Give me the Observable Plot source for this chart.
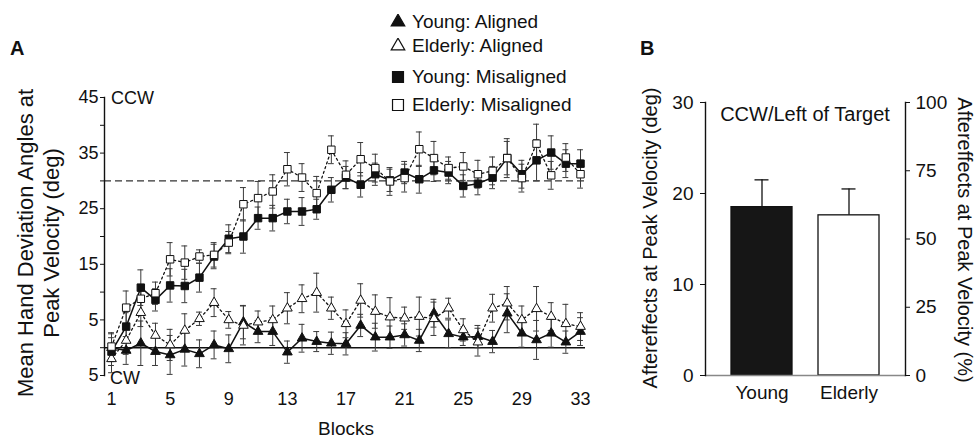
<!DOCTYPE html>
<html><head><meta charset="utf-8">
<script src="https://cdn.jsdelivr.net/npm/d3@7"></script>
<script src="https://cdn.jsdelivr.net/npm/@observablehq/plot@0.6"></script>
<style>
body{margin:0;background:#fff;font-family:"Liberation Sans",Arial,sans-serif;color:#111;}
#wrap{position:relative;width:978px;height:438px;overflow:hidden;background:#fff;}
.abs{position:absolute;white-space:nowrap;line-height:1;}
.rotL{transform:translate(-50%,-50%) rotate(-90deg);}
.rotR{transform:translate(-50%,-50%) rotate(90deg);}
.panel{font-weight:bold;font-size:20px;}
.leg{display:flex;align-items:center;font-size:19px;}
.leg svg{margin-right:6px;}
#plotA,#plotB{position:absolute;top:0;}
#plotA{left:0;} #plotB{left:620px;}
</style></head>
<body><div id="wrap"><div id="plotA"></div><div id="plotB"></div></div>
<script>
// ---------- Panel A data ----------
const blocks = d3.range(1, 34);
const xTicksA = [1, 5, 9, 13, 17, 21, 25, 29, 33];
const yTicksA = [-5, 0, 5, 10, 15, 20, 25, 30, 35, 40, 45];
const yLabeledA = [-5, 5, 15, 25, 35, 45];
const targetAngle = 30;

const youngAligned = [0.0,-0.5,0.8,-0.7,-1.3,-0.3,-1.1,0.5, -0.2,4.6,2.9,2.9,-0.8,1.7,1.1,0.8, 0.7,4.0,1.9,1.9,2.3,1.3,6.2,2.5, 1.9,2.0,1.1,6.2,2.6,1.4,2.6,1.0,2.9];
const youngAlignedErr = [2.5,2.5,4.0,2.5,3.5,3.0,2.5,2.5, 2.5,3.0,2.0,2.5,2.0,2.5,1.8,2.0, 2.0,2.0,2.5,2.0,2.0,2.0,2.5,2.5, 1.5,2.0,2.0,3.5,2.5,3.5,2.5,2.0,2.5];
const elderlyAligned = [-2.0,1.3,6.3,2.2,0.5,3.1,5.2,8.1, 5.0,4.0,4.6,5.0,7.1,8.8,9.9,7.1, 4.3,8.5,6.5,5.5,5.3,5.6,5.2,7.1, 3.2,1.0,7.1,8.0,5.0,7.0,5.6,4.3,3.8];
const elderlyAlignedErr = [2.5,2.5,2.5,2.2,2.8,3.0,1.2,2.5, 1.5,3.5,2.0,2.5,2.8,2.5,3.5,2.0, 2.5,3.0,3.0,3.5,2.0,3.5,3.0,1.8, 2.0,2.5,2.5,3.0,2.5,4.0,2.5,3.5,2.5];
const youngMisaligned = [-0.7,3.8,10.8,8.6,11.2,11.1,12.6,16.4, 19.6,20.0,23.3,23.3,24.5,24.5,24.9,28.4, 30.6,29.3,31.2,30.1,31.5,30.3,31.9,31.5, 29.1,29.5,30.6,34.1,31.2,33.7,35.1,33.1,33.1];
const youngMisalignedErr = [2.5,2.5,3.2,2.0,3.0,3.0,2.6,2.2, 2.5,3.0,2.0,2.3,2.2,2.5,1.8,2.2, 2.0,2.2,2.0,2.0,2.0,2.5,2.0,2.0, 2.0,2.0,2.0,3.0,2.5,3.7,3.0,2.5,2.5];
const elderlyMisaligned = [0.2,7.2,8.8,9.8,15.9,15.3,16.4,16.7, 18.9,25.8,26.9,28.1,32.1,30.6,27.8,35.6, 31.1,33.9,32.3,29.9,30.5,35.7,34.1,32.3, 32.6,31.2,31.8,34.1,30.5,36.7,31.0,34.2,31.2];
const elderlyMisalignedErr = [2.5,3.0,2.5,2.0,3.0,3.0,1.2,2.2, 2.0,3.0,3.0,3.0,3.0,2.5,3.0,2.5, 2.5,3.0,2.5,2.5,2.5,3.1,3.0,2.0, 2.5,2.5,2.5,3.5,2.5,3.5,2.5,2.5,2.5];

const seriesNames = ["Young: Aligned", "Elderly: Aligned", "Young: Misaligned", "Elderly: Misaligned"];

// ---------- Panel B data ----------
const groupsB = ["Young", "Elderly"];
const aftereffects = [18.5, 17.6];
const aftereffectsErr = [3.0, 2.9];
const yTicksB = [0, 10, 20, 30];
const pctTicksB = [0, 25, 50, 75, 100];
const maxDeg = 30; // 100 % corresponds to 30 deg

// ---------- build ----------
const ink = "#111";
const seriesStyle = [
  {symbol: "triangle", fill: ink, dash: null, r: 3.6},
  {symbol: "triangle", fill: "#fff", dash: "2,3", r: 3.6},
  {symbol: "square", fill: ink, dash: null, r: 4.2},
  {symbol: "square", fill: "#fff", dash: "2,3", r: 4.2}
];
const seriesVals = [youngAligned, elderlyAligned, youngMisaligned, elderlyMisaligned];
const seriesErr = [youngAlignedErr, elderlyAlignedErr, youngMisalignedErr, elderlyMisalignedErr];

const series = seriesNames.map((name, k) => ({
  name, style: seriesStyle[k],
  rows: blocks.map((b, i) => ({block: b, v: seriesVals[k][i], e: seriesErr[k][i]}))
}));

const fontFamily = "'Liberation Sans', Arial, sans-serif";
const marksA = [
  Plot.ruleY([targetAngle], {stroke: "#333", strokeWidth: 1.1, strokeDasharray: "7,4"}),
  Plot.ruleY([0], {stroke: ink, strokeWidth: 1.4}),
  Plot.frame({anchor: "left", stroke: ink, strokeWidth: 1.4}),
  Plot.axisY({ticks: yTicksA, tickFormat: d => yLabeledA.includes(d) ? String(Math.abs(d)) : "", tickSize: 4, tickPadding: 2, label: null, fontSize: 18}),
  Plot.axisX({ticks: xTicksA, tickSize: 0, tickPadding: 17, label: null, fontSize: 18})
];
for (const s of series) {
  marksA.push(
    Plot.ruleX(s.rows, {x: "block", y1: d => d.v - d.e, y2: d => d.v + d.e, stroke: "#3a3a3a", strokeWidth: 1}),
    Plot.ruleY(s.rows, {y: d => d.v + d.e, x1: d => d.block - 0.2, x2: d => d.block + 0.2, stroke: "#3a3a3a", strokeWidth: 1}),
    Plot.ruleY(s.rows, {y: d => d.v - d.e, x1: d => d.block - 0.2, x2: d => d.block + 0.2, stroke: "#3a3a3a", strokeWidth: 1})
  );
}
for (const s of series) {
  marksA.push(Plot.line(s.rows, {x: "block", y: "v", stroke: ink, strokeWidth: s.style.dash ? 1.3 : 1.5, strokeDasharray: s.style.dash}));
}
for (const s of series) {
  marksA.push(Plot.dot(s.rows, {x: "block", y: "v", symbol: s.style.symbol, r: s.style.r, fill: s.style.fill, stroke: ink, strokeWidth: 1}));
}

const plotA = Plot.plot({
  width: 620, height: 438,
  marginLeft: 104, marginRight: 35, marginTop: 97, marginBottom: 63,
  x: {domain: [0.522, 33.34]},
  y: {domain: [-5, 45]},
  style: {fontFamily, fontSize: "18px", color: ink, background: "transparent", overflow: "visible"},
  marks: marksA
});
document.getElementById("plotA").appendChild(plotA);

const barsB = groupsB.map((g, i) => ({group: g, value: aftereffects[i], err: aftereffectsErr[i]}));
const plotB = Plot.plot({
  width: 358, height: 438,
  marginLeft: 85, marginRight: 73, marginTop: 102, marginBottom: 63,
  x: {domain: groupsB, paddingInner: 0.3, paddingOuter: 0.29},
  y: {domain: [0, maxDeg]},
  color: {domain: groupsB, range: ["#161616", "#ffffff"]},
  style: {fontFamily, fontSize: "18px", color: ink, background: "transparent", overflow: "visible"},
  marks: [
    Plot.ruleX(barsB, {x: "group", y1: "value", y2: d => d.value + d.err, stroke: ink, strokeWidth: 1.3}),
    Plot.tickY(barsB, {x: "group", y: d => d.value + d.err, stroke: ink, strokeWidth: 1.3, insetLeft: 23.5, insetRight: 23.5}),
    Plot.barY(barsB, {x: "group", y: "value", fill: "group", stroke: ink, strokeWidth: 1.3}),
    Plot.ruleY([0], {stroke: "#888", strokeWidth: 1.3}),
    Plot.frame({anchor: "left", stroke: ink, strokeWidth: 1.4}),
    Plot.frame({anchor: "right", stroke: ink, strokeWidth: 1.4}),
    Plot.axisY({anchor: "left", ticks: yTicksB, tickSize: 5, tickPadding: 7, label: null, fontSize: 19}),
    Plot.axisY({anchor: "right", ticks: pctTicksB.map(p => p * maxDeg / 100), tickFormat: d => String(Math.round(d / maxDeg * 100)), tickSize: 4, tickPadding: 6, label: null, fontSize: 19}),
    Plot.axisX({tickSize: 0, tickPadding: 10, label: null, fontSize: 19})
  ]
});
document.getElementById("plotB").appendChild(plotB);

// ---------- text & legend ----------
const wrap = document.getElementById("wrap");
function addText(txt, css, cls) {
  const d = document.createElement("div");
  d.className = "abs " + (cls || "");
  d.textContent = txt;
  Object.assign(d.style, css);
  wrap.appendChild(d);
  return d;
}
addText("A", {left: "10px", top: "38px"}, "panel");
addText("B", {left: "640px", top: "38px"}, "panel");
addText("CCW", {left: "111px", top: "89px", fontSize: "18px"});
addText("CW", {left: "110px", top: "369px", fontSize: "18px"});
addText("Blocks", {left: "346px", top: "428px", fontSize: "19px", transform: "translate(-50%,-50%)"});
addText("Mean Hand Deviation Angles at", {left: "26px", top: "243px", fontSize: "22px"}, "rotL");
addText("Peak Velocity (deg)", {left: "52px", top: "243px", fontSize: "22px"}, "rotL");
addText("CCW/Left of Target", {left: "805px", top: "114px", fontSize: "20px", transform: "translate(-50%,-50%)"});
addText("Aftereffects at Peak Velocity (deg)", {left: "650px", top: "238px", fontSize: "20px"}, "rotL");
addText("Aftereffects at Peak Velocity (%)", {left: "965px", top: "240px", fontSize: "20px"}, "rotR");

const legendRows = [22, 46, 77, 105];
const legSym = [
  {t: d3.symbolTriangle, fill: ink}, {t: d3.symbolTriangle, fill: "#fff"},
  {t: d3.symbolSquare, fill: ink}, {t: d3.symbolSquare, fill: "#fff"}
];
seriesNames.forEach((name, k) => {
  const row = document.createElement("div");
  row.className = "abs leg";
  row.style.left = "390px";
  row.style.top = (legendRows[k] - 10) + "px";
  const size = legSym[k].t === d3.symbolSquare ? 120 : 80;
  const path = d3.symbol(legSym[k].t, size)();
  row.innerHTML = `<svg width="16" height="16" viewBox="-8 -8 16 16"><path d="${path}" fill="${legSym[k].fill}" stroke="${ink}" stroke-width="1.2"/></svg>`;
  const sp = document.createElement("span");
  sp.textContent = name;
  row.appendChild(sp);
  wrap.appendChild(row);
});
</script>
</body></html>
